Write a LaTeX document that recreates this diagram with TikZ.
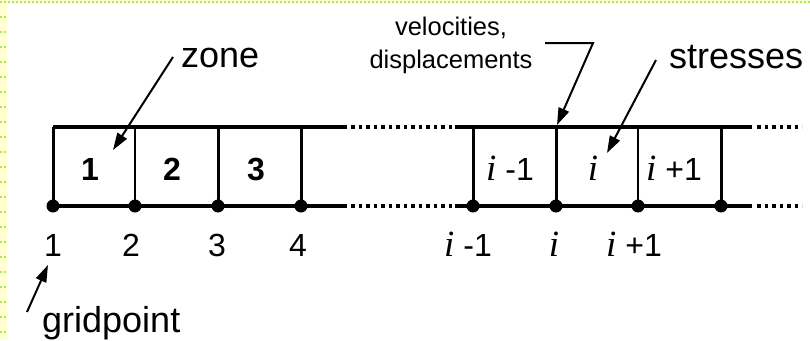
\documentclass[tikz,border=0pt]{standalone}
\usepackage{fontspec}
\setmainfont{Liberation Sans}
\newfontfamily\serifface{Liberation Serif}
\usetikzlibrary{arrows.meta}
\newcommand\iv{{\serifface\itshape\fontsize{37}{42}\selectfont i}}
\definecolor{pageyellow}{HTML}{FFFFD2}
\definecolor{pagegreen}{HTML}{A6E86A}
\begin{document}
\begin{tikzpicture}[x=1pt,y=-1pt,
  grid/.style={line width=3.5pt},
  upright/.style={line width=3pt},
  thinline/.style={line width=2pt},
  cont/.style={line width=3.5pt,dash pattern=on 3.5pt off 4pt},
  gp/.style={circle,fill=black,inner sep=0pt,minimum size=13pt},
  arr/.style={line width=2pt,-{Triangle[length=17pt,width=11pt]}},
  lbl/.style={inner sep=0pt,anchor=base,font=\fontsize{32}{38}\selectfont},
  zonenum/.style={inner sep=0pt,anchor=base,font=\bfseries\fontsize{32}{38}\selectfont},
  callout/.style={inner sep=0pt,anchor=base west,font=\fontsize{36}{43}\selectfont},
  small/.style={inner sep=0pt,align=center,font=\fontsize{25.5}{33}\selectfont}]
\useasboundingbox (0,0) rectangle (810,340);
\fill[white] (0,0) rectangle (810,340);
% page edge
\fill[pageyellow] (0,0) rectangle (7,340);
\fill[pageyellow] (0,0) rectangle (810,4);
\draw[pagegreen,line width=1.5pt,dash pattern=on 1.5pt off 2.5pt] (0,2) -- (810,2);
\foreach \y in {17,32,...,340}
  \draw[pagegreen,line width=1.5pt,dash pattern=on 1.5pt off 2.5pt] (0,\y) -- (7,\y);

% gridpoint columns
\foreach \n/\x in {1/53,2/135,3/218,4/301,5/473,6/556,7/638,8/721}{
  \coordinate (t\n) at (\x,127);
  \coordinate (b\n) at (\x,206);
}
% ends of the solid and continued parts of the rows
\coordinate (tA) at (347,127); \coordinate (bA) at (347,206);
\coordinate (tB) at (351,127); \coordinate (bB) at (351,206);
\coordinate (tC) at (455,127); \coordinate (bC) at (455,206);
\coordinate (tD) at (752,127); \coordinate (bD) at (752,206);
\coordinate (tE) at (757,127); \coordinate (bE) at (757,206);
\coordinate (tF) at (802,127); \coordinate (bF) at (802,206);

% rows
\draw[grid] (t1) -- (tA);
\draw[grid] (b1) -- (bA);
\draw[cont] (tB) -- (tC);
\draw[cont] (bB) -- (bC);
\draw[grid] (tC) -- (tD);
\draw[grid] (bC) -- (bD);
\draw[cont] (tE) -- (tF);
\draw[cont] (bE) -- (bF);

% zone boundaries
\foreach \n in {1,3,4,5,6,8} \draw[upright] (t\n) -- (b\n);
\foreach \n in {2,7} \draw[thinline] (t\n) -- (b\n);

% gridpoints
\foreach \n in {1,...,8} \node[gp] (p\n) at (b\n) {};

% zone numbers
\node[zonenum] (z1) at (90,180) {1};
\node[zonenum] (z2) at (172,180) {2};
\node[zonenum] (z3) at (256,180) {3};
\node[lbl] (zi0) at (510,180) {\iv\ -1};
\node[lbl] (zi1) at (593,180) {\iv};
\node[lbl] (zi2) at (674,180) {\iv\ +1};

% gridpoint numbers
\node[lbl] (n1) at (53,256) {1};
\node[lbl] (n2) at (131,256) {2};
\node[lbl] (n3) at (217,256) {3};
\node[lbl] (n4) at (298,256) {4};
\node[lbl] (ni0) at (468,256) {\iv\ -1};
\node[lbl] (ni1) at (554,256) {\iv};
\node[lbl] (ni2) at (634,256) {\iv\ +1};

% callouts
\node[callout] (zone) at (181,67) {zone};
\node[callout] (stress) at (669,68) {stresses};
\node[callout] (gridpt) at (42,332) {gridpoint};
\node[small] (vel) at (451,45) {velocities,\\displacements};

\coordinate (zoneS) at (173,57);   \coordinate (zoneE) at (113,150);
\coordinate (strS) at (656,60);    \coordinate (strE) at (607,153);
\coordinate (gpS) at (27,312);     \coordinate (gpE) at (48,265);
\coordinate (velS) at (545,43);    \coordinate (velK) at (593,43);
\coordinate (velE) at (557,125);

\draw[arr] (zoneS) -- (zoneE);
\draw[arr] (strS) -- (strE);
\draw[arr] (gpS) -- (gpE);
\draw[arr,line join=miter] (velS) -- (velK) -- (velE);
\end{tikzpicture}
\end{document}
